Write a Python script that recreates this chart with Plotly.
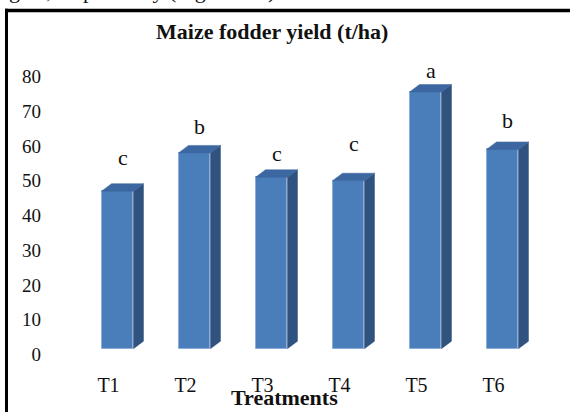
import plotly.graph_objects as go

# Maize fodder yield by treatment
treatments = ["T1", "T2", "T3", "T4", "T5", "T6"]
yield_t_ha = [47, 58, 51, 50, 75.5, 59]
letters = ["c", "b", "c", "c", "a", "b"]
letter_gap = [5.5, 3.4, 2.6, 6.5, 1.9, 4.1]   # height of each letter above its bar (t/ha)
y_ticks = [0, 10, 20, 30, 40, 50, 60, 70, 80]

W, H = 570, 412
L, R, T, B = 58, 560, 58.6, 365.5      # plot area in pixels
Y0, Y1 = -3, 85
X0 = -(117.5 - L) / 77.0
X1 = X0 + (R - L) / 77.0

def px2x(px):
    return (px - L) / (R - L)

def py2y(py):
    return (B - py) / (B - T)

# pseudo-3D column geometry (axis units)
half = 0.2075           # half width of the front face
dx = 10 / 77.0          # depth shift to the right
dy = 7.5 * (Y1 - Y0) / (B - T)   # depth shift upwards
floor = 1.7             # front edge of the floor

FRONT = "#4A7EBB"
SIDE = "#30527E"
TOP = "#3C67A1"
FONT = "Liberation Serif"

xs = list(range(len(treatments)))

side_x, side_y, top_x, top_y = [], [], [], []
for i, v in zip(xs, yield_t_ha):
    xr = i + half
    xl = i - half
    side_x += [xr, xr + dx, xr + dx, xr, xr, None]
    side_y += [floor, floor + dy, v + dy, v, floor, None]
    top_x += [xl, xr, xr + dx, xl + dx, xl, None]
    top_y += [v, v, v + dy, v + dy, v, None]

fig = go.Figure()
fig.add_trace(go.Scatter(x=side_x, y=side_y, fill="toself", mode="lines",
                         line=dict(color=SIDE, width=0.5), fillcolor=SIDE,
                         hoverinfo="skip", showlegend=False))
fig.add_trace(go.Scatter(x=top_x, y=top_y, fill="toself", mode="lines",
                         line=dict(color=TOP, width=0.5), fillcolor=TOP,
                         hoverinfo="skip", showlegend=False))
fig.add_trace(go.Bar(x=xs, y=[v - floor for v in yield_t_ha], base=floor,
                     width=2 * half, marker=dict(color=FRONT,
                     line=dict(color="#8DAEDB", width=1)),
                     showlegend=False))

for i, v, t, g in zip(xs, yield_t_ha, letters, letter_gap):
    fig.add_annotation(x=i + 0.065, y=v + g, text=t, showarrow=False,
                       yanchor="bottom", font=dict(family=FONT, size=22, color="#111"))

fig.add_annotation(xref="paper", yref="paper", x=px2x(272), y=py2y(31),
                   xanchor="center", yanchor="middle",
                   text="<b>Maize fodder yield (t/ha)</b>", showarrow=False,
                   font=dict(family=FONT, size=22, color="#111"))
fig.add_annotation(xref="paper", yref="paper", x=px2x(284), y=py2y(398),
                   xanchor="center", yanchor="middle",
                   text="<b>Treatments</b>", showarrow=False,
                   font=dict(family=FONT, size=22, color="#111"))
fig.add_annotation(xref="paper", yref="paper", x=px2x(-4), y=py2y(4),
                   xanchor="left", yanchor="bottom",
                   text="kg ha, respectively (Fig. 29-30).", showarrow=False,
                   font=dict(family=FONT, size=22, color="#111"))

# frame lines (top and left)
fig.add_shape(type="line", xref="paper", yref="paper",
              x0=px2x(5), x1=px2x(W + 5), y0=py2y(10), y1=py2y(10),
              line=dict(color="black", width=3.5))
fig.add_shape(type="line", xref="paper", yref="paper",
              x0=px2x(6.5), x1=px2x(6.5), y0=py2y(8.3), y1=py2y(H + 5),
              line=dict(color="black", width=3))

fig.update_layout(
    width=W, height=H, autosize=False,
    margin=dict(l=L, r=W - R, t=T, b=H - B, pad=0),
    paper_bgcolor="white", plot_bgcolor="white",
    bargap=0,
    xaxis=dict(range=[X0, X1], tickvals=xs, ticktext=treatments,
               showgrid=False, zeroline=False, showline=False, ticks="",
               ticklabelshift=-9, ticklabelstandoff=6,
               tickfont=dict(family=FONT, size=20, color="#111")),
    yaxis=dict(range=[Y0, Y1], tickvals=y_ticks, showgrid=False,
               zeroline=False, showline=False, ticks="",
               ticklabelstandoff=16,
               tickfont=dict(family=FONT, size=19, color="#111")),
)

fig.write_html("out.html")
